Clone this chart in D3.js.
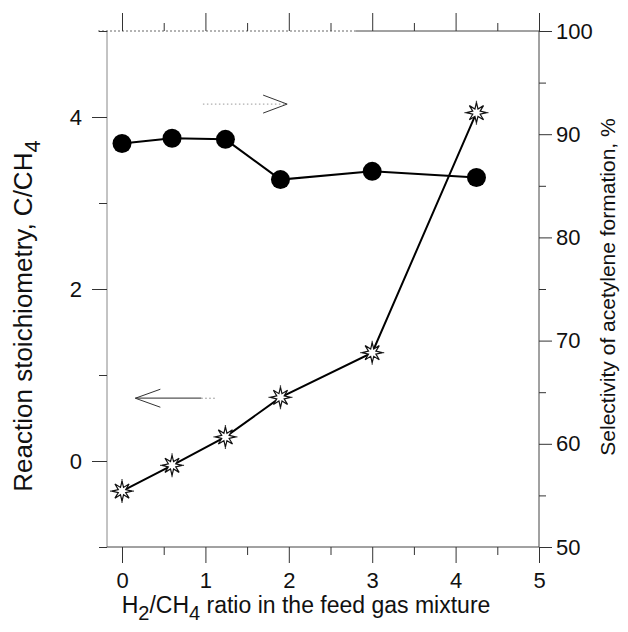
<!DOCTYPE html>
<html>
<head>
<meta charset="utf-8">
<script src="https://cdn.jsdelivr.net/npm/d3@7"></script>
<style>
  body { margin: 0; background: #fff; }
  text { font-family: "Liberation Sans", Arial, sans-serif; fill: #111; }
</style>
</head>
<body>
<svg id="chart" width="628" height="632"></svg>
<script>
// data
var ratio = [0, 0.6, 1.24, 1.9, 3.0, 4.25];          // H2/CH4 ratio
var selectivity = [89.1, 89.6, 89.5, 85.6, 86.4, 85.8]; // circles, right axis (%)
var stoich = [-0.35, -0.05, 0.28, 0.74, 1.26, 4.05];    // stars, left axis
var xMajor = [0, 1, 2, 3, 4, 5];
var xMinor = [0.5, 1.5, 2.5, 3.5, 4.5];
var yLeftMajor = [0, 2, 4];
var yLeftMinor = [-1, 1, 3, 5];
var yRightMajor = [50, 60, 70, 80, 90, 100];
var yRightMinor = [55, 65, 75, 85, 95];

var svg = d3.select("#chart");
var m = {left: 107, right: 539, top: 31, bottom: 547};

var x = d3.scaleLinear().domain([-0.18, 5]).range([m.left, m.right]);
var yL = d3.scaleLinear().domain([-1, 5]).range([m.bottom, m.top]);
var yR = d3.scaleLinear().domain([50, 100]).range([m.bottom, m.top]);

function axisStyle(g) {
    g.select(".domain").remove();
    g.selectAll("line").attr("stroke", "#333").attr("stroke-width", 1);
    g.selectAll("text").attr("font-size", 22).attr("fill", "#111");
}

// frame (scan shows a grey left side and a partly dotted top)
svg.append("line").attr("x1", m.left).attr("x2", m.left).attr("y1", m.top).attr("y2", m.bottom)
    .attr("stroke", "#888");
svg.append("line").attr("x1", m.left).attr("x2", m.right).attr("y1", m.bottom).attr("y2", m.bottom)
    .attr("stroke", "#444");
svg.append("line").attr("x1", m.right).attr("x2", m.right).attr("y1", m.top).attr("y2", m.bottom)
    .attr("stroke", "#444");
svg.append("line").attr("x1", m.left - 9).attr("x2", x(2.8)).attr("y1", m.top).attr("y2", m.top)
    .attr("stroke", "#666").attr("stroke-dasharray", "2,2");
svg.append("line").attr("x1", x(2.8)).attr("x2", m.right).attr("y1", m.top).attr("y2", m.top)
    .attr("stroke", "#444");

// bottom axis
svg.append("g").attr("transform", `translate(0,${m.bottom})`)
    .call(d3.axisBottom(x).tickValues(xMajor).tickSize(16).tickPadding(9).tickFormat(d3.format("d")))
    .call(axisStyle);
svg.append("g").attr("transform", `translate(0,${m.bottom})`)
    .call(d3.axisBottom(x).tickValues(xMinor).tickSize(8).tickFormat(""))
    .call(axisStyle);
// top axis, no labels
svg.append("g").attr("transform", `translate(0,${m.top})`)
    .call(d3.axisTop(x).tickValues(xMajor).tickSize(18).tickFormat(""))
    .call(axisStyle);
svg.append("g").attr("transform", `translate(0,${m.top})`)
    .call(d3.axisTop(x).tickValues(xMinor).tickSize(8).tickFormat(""))
    .call(axisStyle);
// left axis
svg.append("g").attr("transform", `translate(${m.left},0)`)
    .call(d3.axisLeft(yL).tickValues(yLeftMajor).tickSize(15).tickPadding(10).tickFormat(d3.format("d")))
    .call(axisStyle);
svg.append("g").attr("transform", `translate(${m.left},0)`)
    .call(d3.axisLeft(yL).tickValues(yLeftMinor).tickSize(8).tickFormat(""))
    .call(axisStyle);
// right axis
svg.append("g").attr("transform", `translate(${m.right},0)`)
    .call(d3.axisRight(yR).tickValues(yRightMajor).tickSize(13).tickPadding(4).tickFormat(d3.format("d")))
    .call(axisStyle);
svg.append("g").attr("transform", `translate(${m.right},0)`)
    .call(d3.axisRight(yR).tickValues(yRightMinor).tickSize(7).tickFormat(""))
    .call(axisStyle);

// axis titles
var xt = svg.append("text")
    .attr("x", 306).attr("y", 613)
    .attr("text-anchor", "middle").attr("font-size", 23);
xt.append("tspan").text("H");
xt.append("tspan").text("2").attr("font-size", 20).attr("dy", 7);
xt.append("tspan").text("/CH").attr("dy", -7);
xt.append("tspan").text("4").attr("font-size", 20).attr("dy", 7);
xt.append("tspan").text(" ratio in the feed gas mixture").attr("dy", -7);

var lt = svg.append("text")
    .attr("transform", "translate(32,316) rotate(-90)")
    .attr("text-anchor", "middle").attr("font-size", 26);
lt.append("tspan").text("Reaction stoichiometry, C/CH");
lt.append("tspan").text("4").attr("font-size", 22).attr("dy", 8);

svg.append("text")
    .attr("transform", "translate(615,287) rotate(-90)")
    .attr("text-anchor", "middle").attr("font-size", 21)
    .text("Selectivity of acetylene formation, %");

// annotation arrows
var arrowTop = {from: 0.97, to: 1.98, y: 4.15};
var arrowLow = {from: 1.14, to: 0.16, y: 0.73};
var ay = yL(arrowTop.y);
svg.append("line")
    .attr("x1", x(arrowTop.from)).attr("x2", x(arrowTop.to))
    .attr("y1", ay).attr("y2", ay)
    .attr("stroke", "#999").attr("stroke-dasharray", "1.5,2.5");
svg.append("path")
    .attr("d", `M${x(arrowTop.to) - 24},${ay - 9}L${x(arrowTop.to)},${ay}L${x(arrowTop.to) - 24},${ay + 9}`)
    .attr("fill", "none").attr("stroke", "#333");

var by = yL(arrowLow.y);
svg.append("line")
    .attr("x1", x(arrowLow.to)).attr("x2", x(0.95))
    .attr("y1", by).attr("y2", by)
    .attr("stroke", "#555").attr("stroke-width", 1.2);
svg.append("line")
    .attr("x1", x(0.95)).attr("x2", x(arrowLow.from))
    .attr("y1", by).attr("y2", by)
    .attr("stroke", "#888").attr("stroke-dasharray", "1.5,2.5");
svg.append("path")
    .attr("d", `M${x(arrowLow.to) + 25},${by - 9}L${x(arrowLow.to)},${by}L${x(arrowLow.to) + 25},${by + 9}`)
    .attr("fill", "none").attr("stroke", "#333");

// series
var circData = ratio.map((d, i) => [d, selectivity[i]]);
var starData = ratio.map((d, i) => [d, stoich[i]]);

svg.append("path").datum(circData)
    .attr("d", d3.line().x(d => x(d[0])).y(d => yR(d[1])))
    .attr("fill", "none").attr("stroke", "#000").attr("stroke-width", 2);
svg.append("path").datum(starData)
    .attr("d", d3.line().x(d => x(d[0])).y(d => yL(d[1])))
    .attr("fill", "none").attr("stroke", "#000").attr("stroke-width", 2);

svg.selectAll("circle.pt").data(circData).enter()
    .append("circle").attr("class", "pt")
    .attr("cx", d => x(d[0])).attr("cy", d => yR(d[1]))
    .attr("r", 9.5).attr("fill", "#000");

// 8-pointed star marker
function starPath(ro, ri) {
    var p = [];
    for (var k = 0; k < 16; k++) {
        var a = Math.PI * k / 8 - Math.PI / 2;
        var r = k % 2 ? ri : ro;
        p.push([r * Math.cos(a), r * Math.sin(a)]);
    }
    return "M" + p.join("L") + "Z";
}
var stars = svg.selectAll("g.star").data(starData).enter()
    .append("g").attr("class", "star")
    .attr("transform", d => `translate(${x(d[0])},${yL(d[1])})`);
stars.append("path").attr("d", "M-12,0H12M0,-12V12")
    .attr("stroke", "#444").attr("stroke-width", 1.2);
stars.append("path").attr("d", starPath(10, 4))
    .attr("fill", "#fff").attr("stroke", "#111").attr("stroke-width", 1.2);
</script>
</body>
</html>
